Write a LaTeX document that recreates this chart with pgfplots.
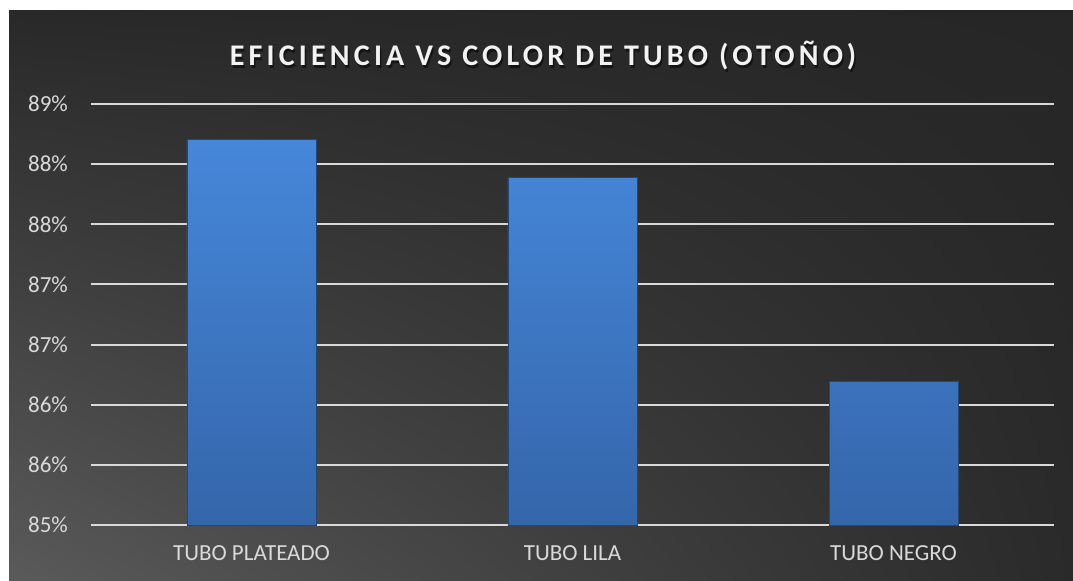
\documentclass[border=0pt]{standalone}
\usepackage{pgfplots}
\pgfplotsset{compat=1.18}
\usetikzlibrary{shadings}
\usepackage{fontspec}
\setmainfont{Carlito}
\definecolor{bgdark}{HTML}{262626}
\definecolor{bglight}{HTML}{5A5A5A}
\definecolor{gridc}{HTML}{D9D9D9}
\definecolor{labc}{HTML}{D9D9D9}
\definecolor{bartop}{HTML}{4687DA}
\definecolor{barbot}{HTML}{3466AA}
\definecolor{baredge}{HTML}{2C5A96}
\colorlet{bgul}{bgdark!95!bglight}
\colorlet{bglr}{bgdark!92!bglight}
\begin{document}
\begin{tikzpicture}[x=0.5pt,y=0.5pt]
\fill[white] (0,0) rectangle (1073,580);
\shade[upper left=bgul, upper right=bgdark, lower left=bglight, lower right=bglr] (9,0) rectangle (1073,569);
\begin{axis}[
  at={(45.5pt,27.5pt)}, anchor=south west,
  scale only axis, width=481.5pt, height=210.5pt,
  xmin=-0.5, xmax=2.5, ymin=85, ymax=89,
  axis line style={draw=none},
  xtick={0,1,2},
  xticklabels={TUBO PLATEADO,TUBO LILA,TUBO NEGRO},
  ytick={85,85.5714,86.1429,86.7143,87.2857,87.8571,88.4286,89},
  yticklabels={85\%,86\%,86\%,87\%,87\%,88\%,88\%,89\%},
  tick style={draw=none},
  ymajorgrids, grid style={gridc, line width=1pt},
  ticklabel style={font=\fontsize{11.5}{13}\selectfont, text=labc},
  yticklabel style={xshift=-8pt},
  xticklabel style={yshift=-7pt},
]
\addplot[ybar, bar width=64.5pt, draw=baredge!80!black, line width=0.4pt, top color=bartop, bottom color=barbot]
  coordinates {(0,88.66) (1,88.30) (2,86.36)};
\end{axis}
\node[text=black, opacity=0.5, font=\fontsize{15}{18}\selectfont\bfseries\addfontfeature{LetterSpace=14}] at (544.5,521.5) {EFICIENCIA VS COLOR DE TUBO (OTOÑO)};
\node[text=white!95!black, font=\fontsize{15}{18}\selectfont\bfseries\addfontfeature{LetterSpace=14}] at (543,524) {EFICIENCIA VS COLOR DE TUBO (OTOÑO)};
\end{tikzpicture}
\end{document}
